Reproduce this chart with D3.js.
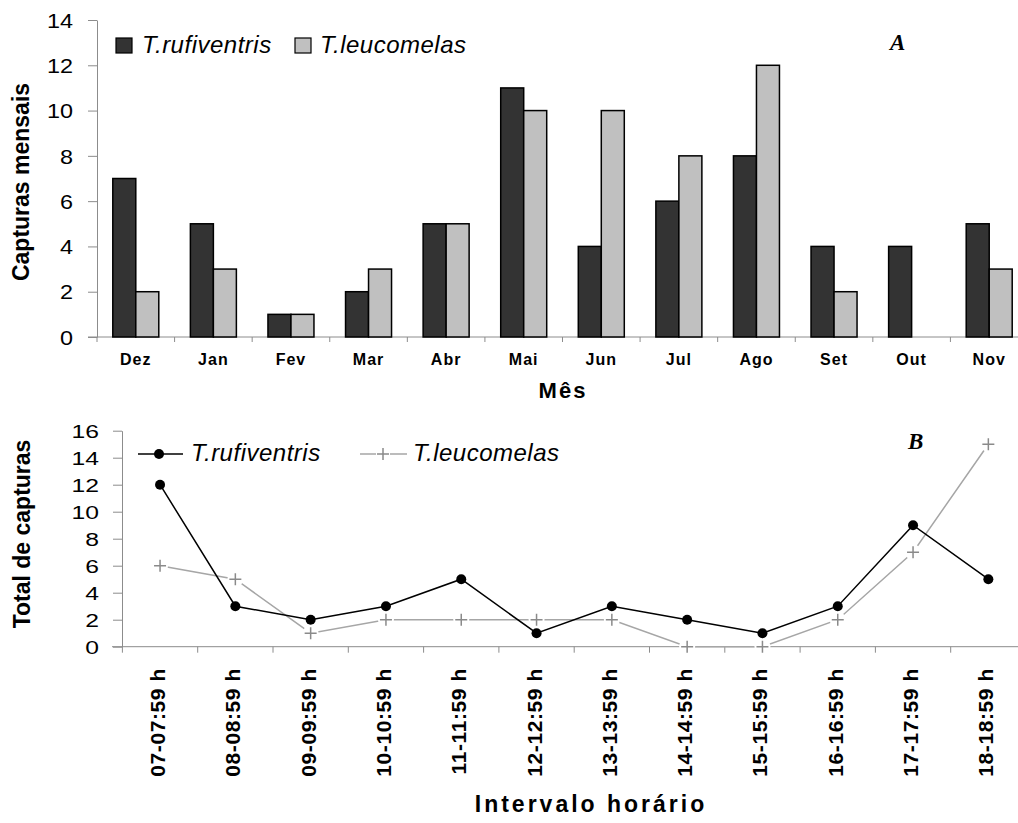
<!DOCTYPE html>
<html lang="pt">
<head>
<meta charset="UTF-8">
<title>Capturas mensais e por intervalo horário</title>
<style>
    body {
        margin: 0;
        background: #fff;
    }
    svg text {
        font-family: "Liberation Sans", Arial, sans-serif;
        fill: #000;
    }
    .axis path, .axis line {
        stroke: #8c8c8c;
        stroke-width: 1;
    }
    .serif {
        font-family: "Liberation Serif", "Times New Roman", serif !important;
        font-weight: bold;
        font-style: italic;
    }
</style>
<script src="https://d3js.org/d3.v7.min.js"></script>
</head>
<body>
<div id="chart"></div>
<script>
// data for panel A (monthly captures)
var months = ["Dez", "Jan", "Fev", "Mar", "Abr", "Mai", "Jun", "Jul", "Ago", "Set", "Out", "Nov"];
var rufiMonthly = [7, 5, 1, 2, 5, 11, 4, 6, 8, 4, 4, 5];
var leucoMonthly = [2, 3, 1, 3, 5, 10, 10, 8, 12, 2, 0, 3];
var ticksA = [0, 2, 4, 6, 8, 10, 12, 14];

// data for panel B (captures per hour interval)
var intervals = ["07-07:59 h", "08-08:59 h", "09-09:59 h", "10-10:59 h", "11-11:59 h", "12-12:59 h",
                 "13-13:59 h", "14-14:59 h", "15-15:59 h", "16-16:59 h", "17-17:59 h", "18-18:59 h"];
var rufiHourly = [12, 3, 2, 3, 5, 1, 3, 2, 1, 3, 9, 5];
var leucoHourly = [6, 5, 1, 2, 2, 2, 2, 0, 0, 2, 7, 15];
var ticksB = [0, 2, 4, 6, 8, 10, 12, 14, 16];

var species = ["T.rufiventris", "T.leucomelas"];
var barColors = ["#333333", "#c0c0c0"];

var svg = d3.select("#chart").append("svg")
    .attr("width", 1018)
    .attr("height", 823);

// ---------- panel A ----------
var yA = d3.scaleLinear().domain([0, 14]).range([337, 20]);
var xA = d3.scaleBand().domain(months).range([97, 1028]);
var xInner = d3.scaleBand().domain(species).range([0, 46]);

var gA = svg.append("g");

// y axis
var yAxisA = gA.append("g")
    .attr("class", "axis")
    .attr("transform", "translate(97,0)")
    .call(d3.axisLeft(yA).tickValues(ticksA).tickSize(9).tickSizeOuter(0));
yAxisA.selectAll("text")
    .attr("x", null).attr("dy", "0.36em")
    .attr("transform", "translate(-24,0) scale(1.17,1)")
    .style("font-size", "20px");

// x axis: ticks on the category boundaries
gA.append("line")
    .attr("x1", 88).attr("x2", 1018)
    .attr("y1", yA(0)).attr("y2", yA(0))
    .attr("stroke", "#8c8c8c");
gA.selectAll(".tickA")
    .data(months)
    .enter().append("line")
    .attr("x1", function(d) { return xA(d); })
    .attr("x2", function(d) { return xA(d); })
    .attr("y1", yA(0)).attr("y2", yA(0) + 5)
    .attr("stroke", "#8c8c8c");
gA.selectAll(".monthLabel")
    .data(months)
    .enter().append("text")
    .attr("x", function(d) { return xA(d) + xA.bandwidth() / 2; })
    .attr("y", 365)
    .attr("text-anchor", "middle")
    .style("font-size", "16px")
    .style("font-weight", "bold")
    .style("letter-spacing", "1px")
    .text(function(d) { return d; });

// bars
var seriesA = [rufiMonthly, leucoMonthly];
var groups = gA.selectAll(".month")
    .data(months)
    .enter().append("g")
    .attr("transform", function(d) { return "translate(" + (xA(d) + (xA.bandwidth() - 46) / 2) + ",0)"; });
groups.selectAll("rect")
    .data(function(d, i) {
        return species.map(function(s, k) { return {s: s, k: k, v: seriesA[k][i]}; });
    })
    .enter().append("rect")
    .filter(function(d) { return d.v > 0; })
    .attr("x", function(d) { return xInner(d.s); })
    .attr("width", xInner.bandwidth())
    .attr("y", function(d) { return yA(d.v); })
    .attr("height", function(d) { return yA(0) - yA(d.v); })
    .attr("fill", function(d) { return barColors[d.k]; })
    .attr("stroke", "#000")
    .attr("stroke-width", 1.5);

// titles
gA.append("text")
    .attr("transform", "translate(29,182) rotate(-90)")
    .attr("text-anchor", "middle")
    .style("font-size", "23px")
    .style("font-weight", "bold")
    .text("Capturas mensais");
gA.append("text")
    .attr("x", 563).attr("y", 398)
    .attr("text-anchor", "middle")
    .style("font-size", "22px")
    .style("font-weight", "bold")
    .style("letter-spacing", "2px")
    .text("Mês");

// legend
var legA = [{x: 116, tx: 142}, {x: 295, tx: 320}];
species.forEach(function(s, k) {
    gA.append("rect")
        .attr("x", legA[k].x).attr("y", 38)
        .attr("width", 16).attr("height", 15)
        .attr("fill", barColors[k])
        .attr("stroke", "#000").attr("stroke-width", 1.2);
    gA.append("text")
        .attr("x", legA[k].tx).attr("y", 53)
        .style("font-size", "24px")
        .style("font-style", "italic")
        .style("letter-spacing", "0.5px")
        .text(s);
});
gA.append("text")
    .attr("class", "serif")
    .attr("x", 890).attr("y", 50)
    .style("font-size", "23px")
    .text("A");

// ---------- panel B ----------
var yB = d3.scaleLinear().domain([0, 16]).range([646.7, 430.7]);
var xB = d3.scaleBand().domain(intervals).range([122.4, 1026]);
var cx = function(d) { return xB(d) + xB.bandwidth() / 2; };

var gB = svg.append("g");

var yAxisB = gB.append("g")
    .attr("class", "axis")
    .attr("transform", "translate(122,0)")
    .call(d3.axisLeft(yB).tickValues(ticksB).tickSize(9).tickSizeOuter(0));
yAxisB.selectAll("text")
    .attr("x", null).attr("dy", "0.36em")
    .attr("transform", "translate(-23,0) scale(1.3,1)")
    .style("font-size", "19px");

gB.append("line")
    .attr("x1", 112).attr("x2", 1018)
    .attr("y1", yB(0)).attr("y2", yB(0))
    .attr("stroke", "#8c8c8c");
gB.selectAll(".tickB")
    .data(intervals)
    .enter().append("line")
    .attr("x1", function(d) { return xB(d); })
    .attr("x2", function(d) { return xB(d); })
    .attr("y1", yB(0)).attr("y2", yB(0) + 6)
    .attr("stroke", "#8c8c8c");
gB.selectAll(".hourLabel")
    .data(intervals)
    .enter().append("text")
    .attr("transform", function(d) { return "translate(" + (cx(d) + 5) + ",668) rotate(-90)"; })
    .attr("text-anchor", "end")
    .style("font-size", "21px")
    .style("font-weight", "bold")
    .style("letter-spacing", "0.6px")
    .text(function(d) { return d; });

// leucomelas: gray line broken around the + markers
var lineB = d3.line()
    .x(function(d, i) { return cx(intervals[i]); })
    .y(function(d) { return yB(d); });
gB.append("path")
    .datum(leucoHourly)
    .attr("d", lineB)
    .attr("fill", "none")
    .attr("stroke", "#a6a6a6")
    .attr("stroke-width", 1.5);
gB.selectAll(".gap")
    .data(leucoHourly)
    .enter().append("circle")
    .attr("cx", function(d, i) { return cx(intervals[i]); })
    .attr("cy", function(d) { return yB(d); })
    .attr("r", 8)
    .attr("fill", "#fff");
gB.selectAll(".plus")
    .data(leucoHourly)
    .enter().append("path")
    .attr("transform", function(d, i) { return "translate(" + cx(intervals[i]) + "," + yB(d) + ")"; })
    .attr("d", "M-6,0H6M0,-6V6")
    .attr("stroke", "#8a8a8a")
    .attr("stroke-width", 1.5);

// rufiventris: black line with dots
gB.append("path")
    .datum(rufiHourly)
    .attr("d", lineB)
    .attr("fill", "none")
    .attr("stroke", "#000")
    .attr("stroke-width", 1.5);
gB.selectAll(".dot")
    .data(rufiHourly)
    .enter().append("circle")
    .attr("cx", function(d, i) { return cx(intervals[i]); })
    .attr("cy", function(d) { return yB(d); })
    .attr("r", 5)
    .attr("fill", "#000");

// titles
gB.append("text")
    .attr("transform", "translate(30,534) rotate(-90)")
    .attr("text-anchor", "middle")
    .style("font-size", "23px")
    .style("font-weight", "bold")
    .text("Total de capturas");
gB.append("text")
    .attr("x", 591).attr("y", 812)
    .attr("text-anchor", "middle")
    .style("font-size", "23px")
    .style("font-weight", "bold")
    .style("letter-spacing", "3px")
    .text("Intervalo horário");

// legend
gB.append("line")
    .attr("x1", 138).attr("x2", 183).attr("y1", 454).attr("y2", 454)
    .attr("stroke", "#000").attr("stroke-width", 1.5);
gB.append("circle").attr("cx", 159).attr("cy", 454).attr("r", 5).attr("fill", "#000");
gB.append("text")
    .attr("x", 191).attr("y", 461)
    .style("font-size", "24px").style("font-style", "italic").style("letter-spacing", "0.5px")
    .text(species[0]);
gB.append("path")
    .attr("d", "M360,454H376M390,454H407")
    .attr("stroke", "#a6a6a6").attr("stroke-width", 1.5);
gB.append("path")
    .attr("d", "M377,454H389M383,448V460")
    .attr("stroke", "#8a8a8a").attr("stroke-width", 1.5);
gB.append("text")
    .attr("x", 413).attr("y", 461)
    .style("font-size", "24px").style("font-style", "italic").style("letter-spacing", "0.5px")
    .text(species[1]);
gB.append("text")
    .attr("class", "serif")
    .attr("x", 908).attr("y", 449)
    .style("font-size", "23px")
    .text("B");
</script>
</body>
</html>
